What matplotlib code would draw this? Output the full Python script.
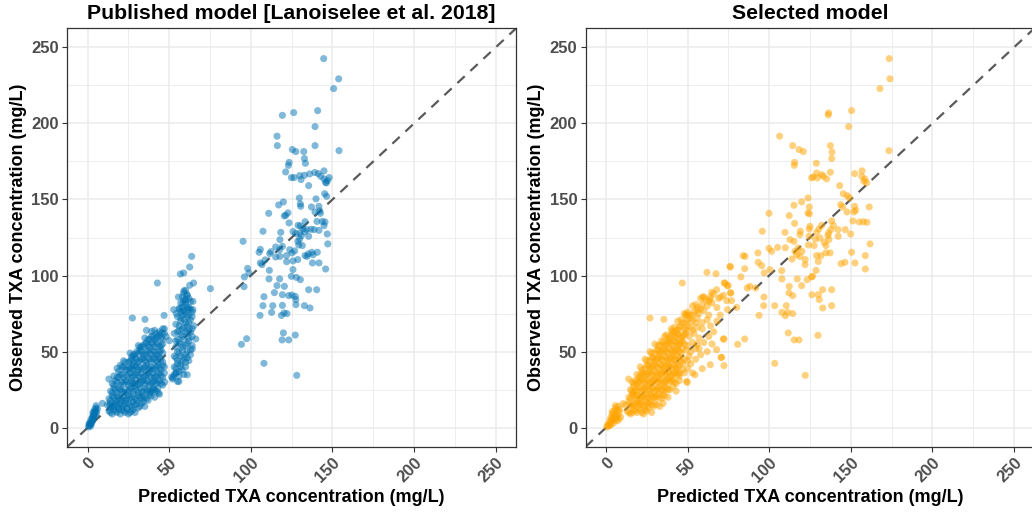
import matplotlib
matplotlib.use("Agg")
import matplotlib.pyplot as plt
from matplotlib.ticker import MultipleLocator

plt.rcParams['font.family'] = ['Liberation Sans', 'DejaVu Sans']
plt.rcParams['font.weight'] = 'bold'

# Published model (blue) (predicted, observed)
pub_zero = [(0.5, 0.5), (1, 1.5), (1.2, 3), (1.5, 2), (2, 4), (2, 5.5), (2.5, 3.5), (2.8, 6), (3, 7.5),
            (3, 4.5), (3.5, 8), (3.5, 6), (3.8, 9.5), (4, 10.5), (4, 7), (4.3, 12), (4.5, 9), (5, 11),
            (5, 13), (5.2, 14.5), (5.5, 10), (6, 12.5), (1.8, 1), (0.8, 2.5), (2.2, 2.5), (3.2, 10), (4.8, 8)]

pub_low = [(13, 11), (15, 9), (16, 12), (18, 10), (20, 9), (21, 12), (23, 10), (25, 9), (27, 11), (29, 10), (14, 13),
           (12, 15), (14, 16), (16, 14), (17, 16), (19, 13), (20, 16), (22, 15), (24, 13), (25, 16), (27, 14),
           (29, 15), (31, 13), (33, 16), (35, 14), (18, 17),
           (13, 19), (15, 21), (17, 18), (18, 21), (20, 19), (22, 20), (23, 18), (25, 21), (26, 19), (28, 22),
           (30, 18), (31, 21), (33, 19), (35, 20), (37, 18), (39, 21), (41, 20),
           (14, 24), (16, 26), (18, 23), (19, 26), (21, 24), (23, 25), (24, 23), (26, 26), (28, 24), (29, 27),
           (31, 23), (32, 26), (34, 24), (36, 25), (38, 23), (40, 26), (42, 24), (44, 22),
           (15, 29), (17, 31), (20, 28), (21, 30), (23, 31), (25, 28), (26, 30), (28, 29), (30, 31), (31, 28),
           (33, 30), (35, 29), (36, 31), (38, 28), (40, 30), (42, 29), (44, 31), (46, 28),
           (16, 34), (19, 33), (21, 35), (24, 34), (26, 36), (27, 33), (29, 35), (31, 34), (33, 36), (34, 33),
           (36, 35), (38, 34), (40, 36), (41, 33), (43, 35), (45, 34), (47, 36),
           (18, 39), (20, 41), (23, 38), (25, 40), (27, 39), (29, 41), (31, 38), (32, 40), (34, 39), (36, 41),
           (38, 38), (39, 40), (41, 39), (43, 41), (45, 38), (47, 40),
           (22, 44), (25, 43), (27, 45), (29, 46), (31, 43), (33, 45), (35, 44), (37, 46), (39, 43), (40, 45),
           (42, 44), (44, 46), (46, 43),
           (26, 49), (28, 48), (30, 50), (32, 51), (34, 48), (36, 50), (38, 49), (40, 51), (42, 48), (44, 50),
           (46, 49), (31, 54), (33, 53), (35, 55), (37, 54), (39, 56), (41, 53), (43, 55), (45, 54),
           (35, 59), (38, 58), (40, 60), (42, 59), (44, 61), (46, 58), (48, 60), (41, 64), (44, 63), (47, 65),
           (36, 64), (9, 16), (13.5, 15), (13, 32), (21, 40), (28, 40.8), (27.4, 72.1), (35.1, 71.2),
           (46.8, 73.8), (39.2, 63.3), (45.5, 62.3), (47.2, 30), (43.3, 22.8), (40, 25), (50, 57.2)]

pub_low_dense = [(14, 10), (17, 11), (19, 12), (22, 11), (24, 12), (26, 10), (28, 12), (15, 14), (18, 15), (21, 14),
                 (23, 16), (26, 15), (28, 17), (30, 16), (32, 14), (34, 17), (14, 18), (16, 20), (19, 20), (21, 18),
                 (24, 19), (27, 20), (29, 19), (32, 20), (34, 21), (36, 19), (38, 22), (15, 23), (17, 25), (20, 25),
                 (22, 23), (25, 24), (27, 26), (30, 25), (33, 23), (35, 26), (37, 24), (39, 24), (41, 25), (43, 26),
                 (16, 28), (18, 30), (22, 29), (24, 30), (27, 31), (29, 29), (32, 29), (34, 31), (37, 30), (39, 29),
                 (41, 31), (43, 30), (45, 29), (18, 33), (20, 35), (22, 33), (25, 35), (28, 34), (30, 36), (32, 33),
                 (35, 34), (37, 36), (39, 33), (42, 34), (44, 36), (46, 33), (19, 37), (22, 40), (24, 38), (26, 39),
                 (28, 38), (30, 40), (33, 38), (35, 40), (37, 39), (40, 38), (42, 40), (44, 39), (46, 41), (23, 43),
                 (26, 44), (28, 43), (30, 45), (32, 44), (34, 46), (36, 43), (38, 45), (41, 46), (43, 43), (45, 45),
                 (27, 47), (29, 48), (31, 49), (33, 50), (35, 48), (37, 51), (39, 48), (41, 50), (43, 48), (45, 51),
                 (32, 53), (34, 54), (36, 56), (38, 53), (40, 55), (42, 56), (44, 53), (46, 55), (37, 58), (39, 60),
                 (41, 58), (43, 60), (45, 59), (47, 62), (42, 62), (46, 65)]

pub_band = [(52, 32), (55, 30.4), (54, 36), (56, 34), (58, 38), (53, 40), (57, 42), (60, 40), (55, 44), (59, 46),
            (62, 44), (53, 47), (56, 49), (58, 51), (61, 50), (63, 48), (54, 53), (57, 55), (60, 54), (62, 57),
            (55, 58), (58, 60), (61, 62), (64, 60), (53, 62), (56, 64), (59, 66), (62, 65), (65, 67), (54, 68),
            (57, 70), (60, 69), (63, 71), (55, 73), (58, 74), (61, 73), (64, 76), (56, 78), (59, 77), (62, 79),
            (57, 82), (60, 81), (63, 83), (58, 86), (61, 87), (59, 90), (60, 84.2), (64.5, 83), (58.4, 82),
            (55.6, 85.9), (60.9, 87.4), (58.8, 88.6), (60, 90.3), (62.5, 93.6), (64.9, 95.1), (56.8, 101),
            (58.8, 101.7), (62.5, 105.6), (63.7, 112.6), (42.7, 95.1), (75.2, 91.4), (66.2, 58.3), (64.1, 51.9),
            (61, 34.8), (52.3, 33.1), (52.7, 77.6), (56.4, 78.7), (54.3, 75), (58.4, 76.5), (61.5, 77.6),
            (64.5, 77.6), (51.5, 33.3), (54.3, 36), (55.9, 30.4),
            (53, 35), (56, 37), (59, 35), (54, 39), (57, 40), (60, 43), (55, 42), (58, 44), (61, 46), (54, 46),
            (57, 47), (60, 48), (63, 51), (55, 50), (58, 53), (61, 55), (64, 54), (56, 56), (59, 58), (62, 59),
            (54, 57), (57, 61), (60, 63), (63, 63), (55, 63), (58, 65), (61, 67), (64, 65), (56, 67), (59, 71),
            (62, 69), (64, 73), (57, 72), (60, 75), (62, 74), (57, 76), (61, 79), (63, 78), (58, 79), (60, 83),
            (62, 85), (59, 84)]

pub_high = [(144.6, 242.6), (153.8, 229.3), (150.7, 222.9), (140.9, 208.4), (119.3, 205.3), (126.2, 207.1),
            (139.3, 197.9), (116.0, 191.6), (116.2, 185.4), (125.4, 182.8), (127.5, 181.5), (132.4, 181.5),
            (139.3, 185.4), (154.0, 182.1), (132.8, 176.9), (133.4, 173.8), (123.4, 174.4), (123.0, 172.4),
            (121.3, 168.1), (124.8, 164.4), (126.4, 164.4), (129.9, 165.7), (130.7, 163.1), (132.8, 165.9),
            (136.0, 166.8), (139.1, 167.7), (141.3, 167.0), (142.8, 165.2), (144.8, 168.8), (144.8, 163.5),
            (146.2, 160.9), (148.0, 164.4), (135.4, 159.1), (145.8, 161.3), (147.0, 162.5), (145.2, 153.8),
            (146.4, 152.1), (129.7, 151.0), (139.9, 150.4), (119.9, 148.4), (117.0, 146.4), (130.3, 147.1),
            (130.5, 145.5), (137.1, 145.1), (141.7, 145.5), (142.2, 142.5), (142.6, 140.9), (139.3, 141.8),
            (110.9, 140.9), (122.7, 141.2), (121.3, 139.6), (120.5, 139.2), (123.4, 134.6), (140.5, 135.6),
            (143.8, 135.6), (145.4, 135.2), (144.8, 132.8), (133.2, 135.4), (128.9, 133.0), (130.3, 132.6),
            (131.9, 130.8), (134.2, 130.2), (136.8, 130.4), (138.7, 130.2), (141.7, 129.7), (107.4, 129.1),
            (118.3, 128.4), (125.8, 128.9), (127.5, 127.6), (129.9, 128.0), (133.0, 128.7), (135.4, 125.8),
            (130.9, 126.2), (129.9, 124.0), (146.8, 127.3), (95.2, 122.5), (117.8, 123.6), (128.7, 122.5),
            (129.3, 120.1), (131.5, 119.7), (147.1, 120.8), (115.2, 118.8), (119.3, 119.2), (117.6, 117.0),
            (105.8, 117.2), (105.0, 115.3), (112.3, 115.7), (111.5, 114.4), (123.8, 117.0), (125.2, 114.9),
            (126.8, 116.2), (135.2, 114.2), (137.3, 115.3), (138.1, 113.7), (140.7, 115.3), (134.4, 112.6),
            (133.2, 113.1), (115.2, 112.2), (117.8, 112.6), (121.8, 113.1), (128.7, 110.5), (125.8, 109.6),
            (121.9, 109.1), (137.7, 108.3), (141.7, 108.3), (106.8, 107.2), (105.8, 108.3), (108.7, 110.3),
            (125.8, 103.9), (145.8, 104.3), (98.0, 104.7), (98.8, 101.7), (96.0, 99.1), (111.3, 103.4),
            (124.8, 99.5), (127.9, 98.8), (130.3, 97.3), (111.1, 97.8), (117.6, 97.8), (95.8, 92.7),
            (116.0, 93.4), (120.5, 92.9), (135.4, 90.7), (140.3, 90.7), (114.4, 88.8), (119.3, 87.4),
            (123.2, 86.8), (125.2, 87.2), (127.2, 86.3), (127.5, 84.2), (108.0, 86.1), (107.4, 80.2),
            (113.4, 80.2), (119.3, 80.4), (132.8, 80.2), (136.2, 78.7), (127.6, 80.9), (105.6, 73.8),
            (112.7, 75.8), (118.7, 73.8), (120.3, 75.4), (122.1, 75.0), (119.9, 62.3), (127.2, 60.9),
            (119.1, 57.7), (123.2, 57.7), (97.4, 58.5), (94.2, 54.8), (108.0, 42.3), (128.1, 34.4)]

# Selected model (orange)
sel_zero = [(0.5, 0.5), (1, 2), (1.5, 1), (2, 3), (2.5, 5), (3, 2), (3, 7), (3.5, 4.5), (4, 9), (4, 6), (4.5, 3),
            (5, 11), (5, 7.5), (5.5, 5), (6, 13), (6, 9), (6.5, 6.5), (7, 11.5), (7, 8), (7.5, 14), (8, 10),
            (8.5, 12), (9, 7), (2, 1.5), (3.8, 10.5), (5.8, 14.5), (6.8, 4.5), (8, 5.5)]

sel_low = [(13, 11), (15, 9), (17, 12), (19, 10), (21, 12), (23, 9), (25, 11), (28, 10), (16, 10),
           (12, 15), (14, 17), (16, 14), (18, 16), (20, 15), (22, 17), (24, 14), (26, 16), (28, 15), (30, 17),
           (33, 14), (35, 16),
           (14, 20), (16, 22), (18, 19), (20, 21), (22, 20), (24, 22), (26, 19), (28, 21), (30, 20), (32, 22),
           (34, 19), (36, 21), (38, 20), (17, 23),
           (15, 25), (17, 27), (19, 24), (21, 26), (23, 25), (25, 27), (27, 24), (29, 26), (31, 25), (33, 27),
           (35, 24), (37, 26), (39, 25), (41, 27), (43, 24),
           (16, 30), (19, 29), (21, 31), (23, 30), (25, 32), (27, 29), (29, 31), (31, 30), (33, 32), (35, 29),
           (37, 31), (39, 30), (41, 32), (43, 29), (45, 31),
           (19, 35), (21, 34), (23, 36), (25, 35), (27, 37), (29, 34), (31, 36), (33, 35), (35, 37), (37, 34),
           (39, 36), (41, 35), (43, 37), (45, 34), (48, 36),
           (21, 40), (24, 39), (26, 41), (28, 40), (30, 42), (32, 39), (34, 41), (36, 40), (38, 42), (40, 39),
           (42, 41), (44, 40), (47, 42), (50, 39),
           (24, 45), (27, 44), (29, 46), (31, 45), (33, 47), (35, 44), (37, 46), (39, 45), (41, 47), (43, 44),
           (45, 46), (48, 45), (51, 47),
           (27, 50), (30, 49), (32, 51), (34, 50), (36, 52), (38, 49), (40, 51), (42, 50), (44, 52), (46, 49),
           (49, 51), (52, 50), (55, 52),
           (30, 55), (33, 54), (35, 56), (37, 55), (39, 57), (41, 54), (43, 56), (45, 55), (47, 57), (50, 54),
           (53, 56), (56, 55),
           (36, 60), (38, 59), (40, 61), (42, 60), (44, 62), (46, 59), (48, 61), (51, 60), (54, 62), (57, 59),
           (40, 65), (43, 64), (45, 66), (48, 65), (50, 67), (53, 64), (56, 66), (59, 65),
           (44, 70), (47, 69), (50, 71), (53, 70), (56, 72), (59, 69), (62, 71),
           (48, 75), (51, 74), (54, 76), (57, 75), (60, 77), (63, 74),
           (53, 80), (56, 79), (59, 81), (62, 80), (65, 82), (68, 79),
           (58, 85), (61, 84), (64, 86), (66, 88), (69, 85), (72, 87),
           (27, 72.1), (35.5, 71.2), (48.9, 73.8), (40.6, 63.3), (13.9, 32), (10.4, 15.8), (74.5, 77.6),
           (71.9, 58.3), (70.5, 46.2), (63.9, 41.4), (59, 38.8), (54.5, 34.8), (49.8, 29.8), (49.4, 30.4),
           (72.3, 40.8), (67.8, 51.3), (49.4, 74.3),
           (84.1, 113.1), (76, 106.1), (61.9, 102.1), (67.4, 101.2), (46.8, 95.1), (72.5, 95.1), (74.3, 93.4),
           (67.8, 90.7), (64.8, 89), (76.4, 88.6), (59.3, 85.9), (63.7, 84.2), (70.3, 85.9), (74, 83.5),
           (77, 83.5), (72.9, 95.1), (74.9, 93.4), (76.4, 88.6), (80.1, 79.1), (72.3, 58.3), (70.9, 46.2),
           (47, 38), (52, 42), (55, 45), (58, 48), (62, 50), (65, 55), (60, 56), (50, 44), (53, 36), (45, 36),
           (57, 52), (63, 60), (66, 63), (68, 70), (70, 74), (64, 67)]

sel_low_dense = [(14, 10), (18, 11), (20, 13), (22, 10), (24, 12), (26, 13), (15, 15), (17, 15), (19, 17), (21, 16),
                 (23, 15), (25, 17), (27, 17), (29, 14), (31, 15), (15, 19), (17, 21), (19, 21), (21, 19), (23, 21),
                 (25, 20), (27, 22), (29, 20), (31, 21), (33, 20), (35, 22), (16, 24), (18, 25), (20, 27), (22, 24),
                 (24, 26), (26, 25), (28, 27), (30, 24), (32, 26), (34, 25), (36, 27), (38, 25), (17, 29), (18, 31),
                 (20, 30), (22, 32), (24, 29), (26, 31), (28, 30), (30, 32), (32, 30), (34, 31), (36, 30), (38, 32),
                 (40, 31), (42, 30), (20, 33), (22, 36), (24, 34), (26, 36), (28, 35), (30, 37), (32, 34), (34, 36),
                 (36, 35), (38, 37), (40, 34), (42, 36), (44, 35), (22, 38), (25, 41), (27, 39), (29, 41), (31, 40),
                 (33, 42), (35, 39), (37, 41), (39, 40), (41, 42), (43, 39), (45, 41), (25, 44), (28, 46), (30, 44),
                 (32, 46), (34, 45), (36, 47), (38, 44), (40, 46), (42, 45), (44, 47), (46, 44), (28, 49), (31, 51),
                 (33, 49), (35, 51), (37, 50), (39, 52), (41, 49), (43, 51), (45, 50), (47, 52), (32, 54), (34, 57),
                 (36, 54), (38, 56), (40, 55), (42, 57), (44, 54), (46, 56), (48, 55), (37, 61), (39, 58), (41, 62),
                 (43, 59), (45, 61), (47, 60), (49, 62), (42, 66), (44, 64), (46, 67), (49, 64), (52, 66), (46, 71),
                 (49, 69), (52, 72), (55, 69), (50, 76), (53, 74), (56, 77), (55, 81), (58, 78), (60, 86), (63, 83)]

sel_high = [(173.6, 242.6), (174.0, 229.3), (167.9, 222.9), (150.5, 208.4), (136.4, 206.9), (136.2, 205.6),
            (148.7, 197.9), (106.4, 191.6), (114.4, 185.4), (118.3, 182.8), (120.9, 181.5), (137.5, 185.4),
            (138.5, 181.2), (138.3, 176.9), (173.4, 182.1), (115.6, 174.4), (115.4, 172.4), (128.9, 173.8),
            (126.0, 164.2), (127.0, 164.8), (129.1, 167.4), (129.5, 164.2), (132.2, 166.3), (133.2, 165.2),
            (135.2, 163.5), (137.5, 167.9), (143.2, 159.1), (152.4, 167.0), (156.9, 168.8), (156.7, 165.2),
            (158.7, 163.5), (159.7, 160.9), (158.1, 161.9),
            (145.4, 153.8), (147.9, 152.5), (149.1, 151.0), (123.8, 151.0), (119.9, 148.4), (115.2, 146.2),
            (124.6, 145.1), (143.8, 146.6), (145.0, 145.1), (152.4, 145.5), (153.0, 142.9), (151.9, 141.8),
            (161.3, 145.1), (99.9, 140.9), (123.8, 141.2), (124.6, 140.5), (112.3, 139.4), (147.7, 141.8),
            (151.3, 135.9), (155.2, 135.2), (157.7, 135.4), (159.9, 135.0), (115.6, 134.3), (138.3, 135.9),
            (139.3, 133.0), (137.9, 130.2), (136.4, 128.0), (136.0, 126.2), (136.6, 123.6), (132.2, 133.0),
            (130.5, 130.6), (129.1, 128.4), (125.0, 132.3), (124.6, 130.6), (119.1, 129.1), (118.9, 126.9),
            (109.7, 128.4), (95.8, 129.1), (142.2, 130.2), (142.3, 125.8), (146.6, 130.2), (149.9, 127.3),
            (124.4, 125.8), (128.3, 124.0), (131.1, 124.7), (112.7, 123.6), (115.2, 122.5), (133.8, 121.8),
            (134.8, 119.7), (124.0, 120.1), (127.5, 119.7), (161.8, 120.8), (105.2, 118.5), (109.9, 118.3),
            (99.9, 117.9), (101.5, 115.9), (117.8, 118.1), (115.8, 115.9), (116.9, 113.7), (120.1, 115.9),
            (118.9, 112.6), (122.1, 110.5), (114.0, 110.9), (93.1, 114.9), (85.2, 112.6), (129.1, 113.1),
            (131.7, 113.1), (134.8, 114.9), (137.3, 114.9), (130.1, 109.3), (150.5, 115.3), (158.9, 113.1),
            (152.6, 108.3), (146.4, 108.7), (144.0, 107.8), (93.3, 108.7), (95.4, 106.5), (100.5, 103.9),
            (97.0, 101.7), (85.0, 104.5), (76.2, 105.6), (107.7, 103.2), (122.0, 107.2), (128.7, 103.4),
            (158.9, 104.3), (82.7, 99.1), (107.8, 97.8), (117.2, 97.8), (123.3, 97.3), (126.0, 99.1),
            (126.6, 99.5), (119.9, 93.4), (112.3, 92.9), (86.6, 91.8), (88.2, 92.9), (91.7, 91.8),
            (112.1, 88.6), (114.4, 86.8), (126.2, 87.4), (130.1, 87.4), (130.7, 84.2), (132.8, 90.7),
            (138.3, 90.7), (96.8, 85.9), (96.6, 80.2), (103.4, 80.2), (110.5, 80.2), (132.8, 78.7),
            (138.3, 80.2), (107.8, 75.8), (109.9, 73.6), (111.3, 75.8), (114.4, 75.0), (93.8, 73.8),
            (111.7, 62.3), (115.4, 57.7), (118.3, 57.7), (129.9, 60.7), (85.0, 58.3), (80.7, 54.8),
            (103.4, 42.3), (122.1, 34.4)]

titles = ['Published model [Lanoiselee et al. 2018]', 'Selected model']
colors = ['#0072B2', '#FFA500']
panels = [pub_zero + pub_low + pub_low_dense + pub_band + pub_high,
          sel_zero + sel_low + sel_low_dense + sel_high]
ticks = [0, 50, 100, 150, 200, 250]

fig = plt.figure(figsize=(10.32, 5.12), dpi=100)
# right panel runs a little past the right edge, as in the original
positions = [[0.0652, 0.1275, 0.4349, 0.8172], [0.5674, 0.1275, 0.4349, 0.8172]]

for pos, pts, col, title in zip(positions, panels, colors, titles):
    ax = fig.add_axes(pos)
    lims = (-12.5, 262.5)
    ax.plot(lims, lims, ls=(0, (4.5, 3.5)), color='#5a5a5a', lw=1.6, zorder=2)
    ax.scatter([p[0] for p in pts], [p[1] for p in pts], s=26, color=col, alpha=0.5,
               edgecolors='none', zorder=3)
    ax.set_xlim(lims)
    ax.set_ylim(lims)
    ax.set_xticks(ticks)
    ax.set_yticks(ticks)
    ax.xaxis.set_minor_locator(MultipleLocator(25))
    ax.yaxis.set_minor_locator(MultipleLocator(25))
    ax.grid(which='major', color='#EBEBEB', lw=1.1, zorder=0)
    ax.grid(which='minor', color='#EBEBEB', lw=0.6, zorder=0)
    ax.set_axisbelow(True)
    ax.tick_params(which='minor', length=0)
    ax.tick_params(which='major', length=3.5, width=0.8, color='#333333',
                   labelsize=12, labelcolor='#4D4D4D', pad=2.5)
    for lab in ax.get_xticklabels():
        lab.set_rotation(45)
        lab.set_ha('right')
        lab.set_va('top')
        lab.set_rotation_mode('anchor')
    for s in ax.spines.values():
        s.set_color('#333333')
        s.set_linewidth(0.9)
    ax.set_title(title, fontsize=15.3, fontweight='bold', pad=7)
    ax.set_xlabel('Predicted TXA concentration (mg/L)', fontsize=13, fontweight='bold', labelpad=3)
    ax.set_ylabel('Observed TXA concentration (mg/L)', fontsize=13, fontweight='bold', labelpad=3)

fig.savefig('out.png', dpi=100)
